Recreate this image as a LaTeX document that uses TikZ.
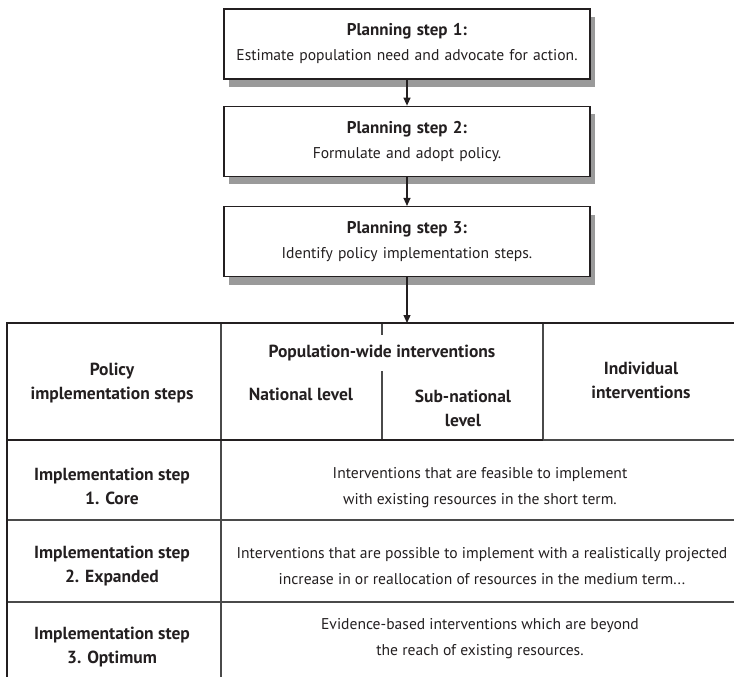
\documentclass[tikz,border=0pt]{standalone}
\usepackage{fontspec}
\setmainfont{PT Sans}
\usetikzlibrary{arrows.meta,positioning,shadows}
\definecolor{inkgrey}{HTML}{231F20}
\definecolor{rulegrey}{HTML}{4A4A4A}
\definecolor{shadowgrey}{HTML}{9A9A9A}
\newcommand\planfont{\fontsize{15.6}{25}\selectfont}
\newcommand\plantitle[1]{{\fontsize{17}{25}\selectfont\bfseries #1}}
\newcommand\tablefont{\fontsize{15.6}{26}\selectfont}
\newcommand\tablebold{\fontsize{17.5}{24}\selectfont\bfseries}
\tikzset{
  planbox/.style={rectangle,draw=inkgrey,line width=1.3pt,fill=white,
    minimum width=366pt,minimum height=70pt,text width=360pt,align=center,
    inner sep=0pt,font=\planfont,text=inkgrey,
    drop shadow={shadow xshift=5pt,shadow yshift=-8pt,fill=shadowgrey,opacity=1}},
  arrow/.style={-{Triangle[length=8pt,width=7pt]},line width=1.2pt,draw=inkgrey},
  hdrtext/.style={align=center,font=\tablebold,text=inkgrey,inner sep=2pt},
  celltext/.style={align=center,font=\tablefont,text=inkgrey,inner sep=2pt},
  toprule/.style={line width=2.6pt,draw=inkgrey},
  headrule/.style={line width=2pt,draw=inkgrey},
  midrule/.style={line width=1.5pt,draw=rulegrey},
  colrule/.style={line width=1.1pt,draw=rulegrey},
}

\begin{document}
\begin{tikzpicture}[x=1pt,y=1pt]
  \useasboundingbox (0,0) rectangle (734,-677);

  %% ── Planning steps ────────────────────────────────────────────────────────
  \node[planbox] (step1) at (407,-44)
    {\plantitle{Planning step 1:}\\Estimate population need and advocate for action.};
  \node[planbox, below=26pt of step1] (step2)
    {\plantitle{Planning step 2:}\\Formulate and adopt policy.};
  \node[planbox, below=29pt of step2] (step3)
    {\plantitle{Planning step 3:}\\Identify policy implementation steps.};

  %% ── Table grid ────────────────────────────────────────────────────────────
  \coordinate (tbltop) at (7,-323);
  \draw[colrule] (221,-323) -- (221,-677);
  \draw[colrule] (382,-323) -- (382,-440);
  \draw[colrule] (543,-323) -- (543,-440);
  \draw[midrule] (543,-440) -- (734,-440);
  \draw[midrule] (7,-520) -- (734,-520);
  \draw[midrule] (7,-602) -- (734,-602);
  \draw[headrule] (7,-440) -- (543,-440);
  \draw[headrule] (7,-323) -- (7,-677);
  \draw[toprule] (6,-323) -- (734,-323);

  %% ── Header cells ──────────────────────────────────────────────────────────
  \node[hdrtext] (polhdr) at (112,-383) {Policy\\implementation steps};
  \node[hdrtext,fill=white,inner ysep=10pt] (pophdr) at (382,-353)
    {Population-wide interventions};
  \node[hdrtext] (nathdr) at (301,-394) {National level};
  \node[hdrtext] (subhdr) at (463,-408) {Sub-national\\level};
  \node[hdrtext] (indhdr) at (641,-380) {Individual\\interventions};

  %% ── Implementation steps ──────────────────────────────────────────────────
  \node[hdrtext] (impl1) at (112,-486) {Implementation step\\1. Core};
  \node[hdrtext] (impl2) at (112,-566) {Implementation step\\2. Expanded};
  \node[hdrtext] (impl3) at (112,-647) {Implementation step\\3. Optimum};
  \node[celltext] (core) at (480,-488)
    {Interventions that are feasible to implement\\with existing resources in the short term.};
  \node[celltext] (expand) at (482,-566)
    {Interventions that are possible to implement with a realistically projected\\increase in or reallocation of resources in the medium term...};
  \node[celltext] (optim) at (480,-639)
    {Evidence-based interventions which are beyond\\the reach of existing resources.};

  %% ── Arrows ────────────────────────────────────────────────────────────────
  \draw[arrow] (step1) -- (step2);
  \draw[arrow] (step2) -- (step3);
  \draw[arrow] (step3.south) -- (step3.south |- tbltop);

\end{tikzpicture}
\end{document}
